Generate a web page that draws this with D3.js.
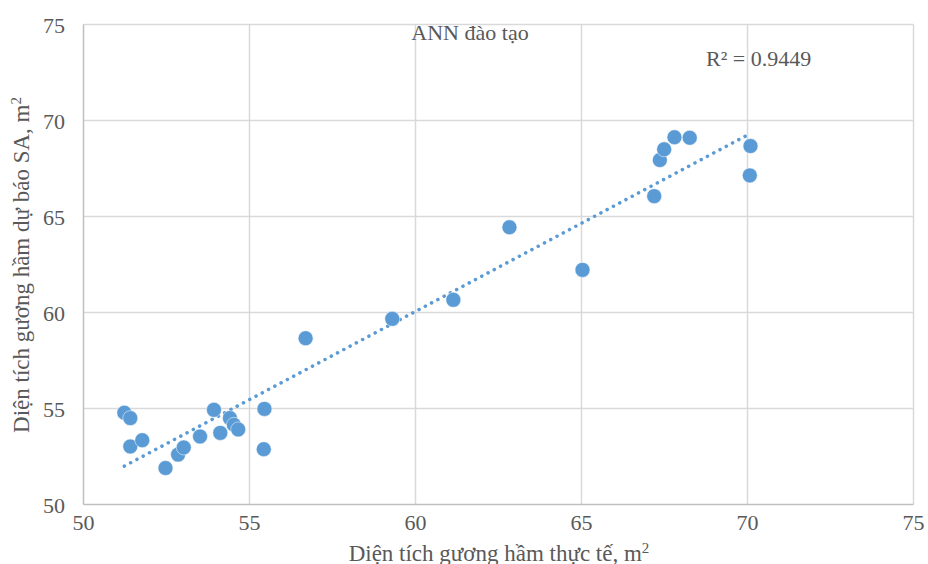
<!DOCTYPE html>
<html>
<head>
<meta charset="utf-8">
<script src="https://cdn.jsdelivr.net/npm/d3@7"></script>
<style>
  body { margin: 0; background: #fff; }
  text { font-family: "Liberation Serif", "Times New Roman", serif; }
</style>
</head>
<body>
<svg id="chart" width="928" height="564"></svg>
<script>
// actual area (x) vs ANN predicted area (y), m2
var actual = [51.23, 51.41, 51.41, 51.77, 52.47, 52.85, 53.02, 53.51, 53.93, 54.12,
              54.41, 54.53, 54.66, 55.45, 55.43, 56.69, 59.30, 61.14, 62.83, 65.03,
              67.19, 67.36, 67.49, 67.80, 68.26, 70.09, 70.07];
var predicted = [54.78, 54.50, 53.02, 53.35, 51.90, 52.60, 52.97, 53.54, 54.93, 53.73,
                 54.50, 54.15, 53.91, 54.98, 52.88, 58.66, 59.67, 60.66, 64.44, 62.22,
                 66.06, 67.94, 68.50, 69.13, 69.10, 68.67, 67.14];
var xTicks = [50, 55, 60, 65, 70, 75];
var yTicks = [50, 55, 60, 65, 70, 75];
var r2Label = "R² = 0.9449";

var svg = d3.select("#chart");
var x = d3.scaleLinear().domain([50, 75]).range([83.5, 913.5]);
var y = d3.scaleLinear().domain([50, 75]).range([504.5, 24.5]);

// gridlines
svg.append("g").selectAll("line").data(xTicks.slice(1)).join("line")
  .attr("x1", d => x(d)).attr("x2", d => x(d))
  .attr("y1", y(50)).attr("y2", y(75))
  .attr("stroke", "#d9d9d9").attr("stroke-width", 1.5);
svg.append("g").selectAll("line").data(yTicks.slice(1)).join("line")
  .attr("x1", x(50)).attr("x2", x(75))
  .attr("y1", d => y(d)).attr("y2", d => y(d))
  .attr("stroke", "#d9d9d9").attr("stroke-width", 1.5);

// axes lines
svg.append("line").attr("x1", x(50)).attr("x2", x(50)).attr("y1", y(50)).attr("y2", y(75))
  .attr("stroke", "#bfbfbf").attr("stroke-width", 1.5);
svg.append("line").attr("x1", x(50)).attr("x2", x(75)).attr("y1", y(50)).attr("y2", y(50))
  .attr("stroke", "#bfbfbf").attr("stroke-width", 1.5);

// tick labels
svg.append("g").selectAll("text").data(xTicks).join("text")
  .attr("x", d => x(d)).attr("y", 530)
  .attr("text-anchor", "middle").attr("font-size", 22).attr("fill", "#595959")
  .text(d => d);
svg.append("g").selectAll("text").data(yTicks).join("text")
  .attr("x", 65).attr("y", d => y(d) + 8)
  .attr("text-anchor", "end").attr("font-size", 22).attr("fill", "#595959")
  .text(d => d);

// linear trendline
var mx = d3.mean(actual), my = d3.mean(predicted);
var sxy = d3.sum(actual, (v, i) => (v - mx) * (predicted[i] - my));
var sxx = d3.sum(actual, v => (v - mx) * (v - mx));
var slope = sxy / sxx, icpt = my - slope * mx;
var ext = d3.extent(actual);
svg.append("line")
  .attr("x1", x(ext[0])).attr("y1", y(icpt + slope * ext[0]))
  .attr("x2", x(ext[1])).attr("y2", y(icpt + slope * ext[1]))
  .attr("stroke", "#5b9bd5").attr("stroke-width", 3.5)
  .attr("stroke-linecap", "round").attr("stroke-dasharray", "0.1 7");

// points
svg.append("g").selectAll("circle").data(actual).join("circle")
  .attr("cx", d => x(d)).attr("cy", (d, i) => y(predicted[i]))
  .attr("r", 7.5).attr("fill", "#5b9bd5")
  .attr("stroke", "#fff").attr("stroke-width", 0.5);

// title & labels
svg.append("text").attr("x", 470).attr("y", 40).attr("text-anchor", "middle")
  .attr("font-size", 22).attr("fill", "#595959").text("ANN đào tạo");
svg.append("text").attr("x", 706).attr("y", 66)
  .attr("font-size", 22).attr("fill", "#595959").text(r2Label);
svg.append("text").attr("x", 499).attr("y", 561).attr("text-anchor", "middle")
  .attr("font-size", 23).attr("fill", "#595959")
  .html("Diện tích gương hầm thực tế, m<tspan dy='-8' font-size='15'>2</tspan>");
svg.append("text").attr("transform", "translate(29,265) rotate(-90)").attr("text-anchor", "middle")
  .attr("font-size", 23).attr("fill", "#595959")
  .html("Diện tích gương hầm dự báo SA, m<tspan dy='-8' font-size='15'>2</tspan>");
</script>
</body>
</html>
